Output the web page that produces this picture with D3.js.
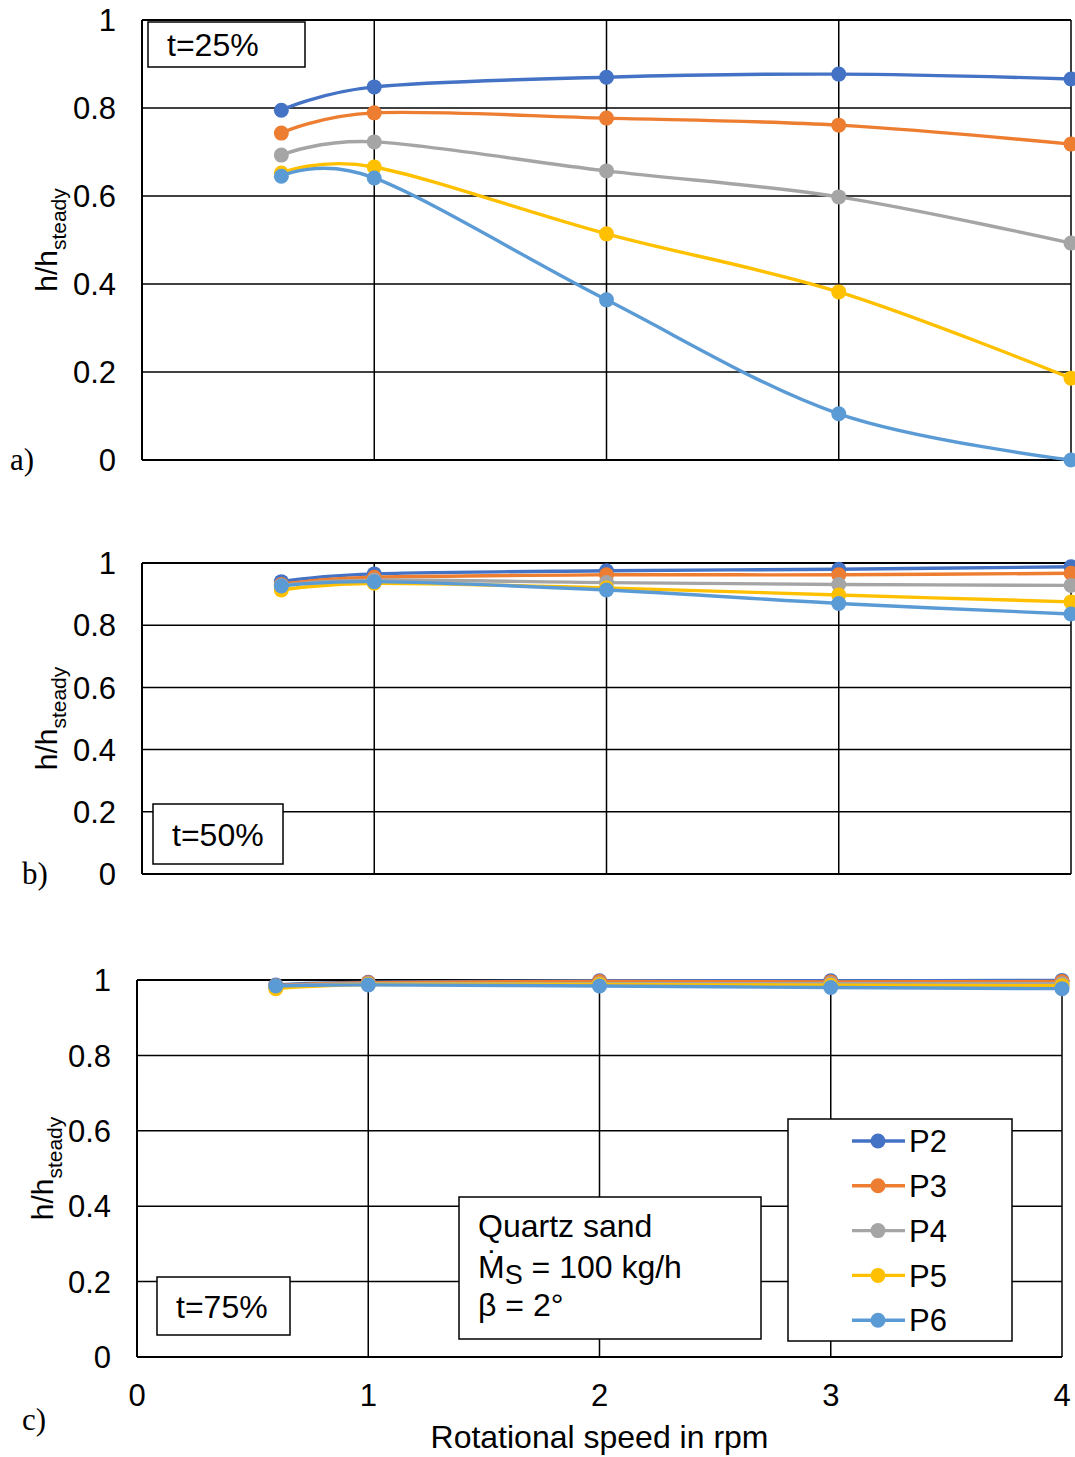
<!DOCTYPE html>
<html>
<head>
<meta charset="utf-8">
<script src="https://cdn.jsdelivr.net/npm/d3@7"></script>
<style>
  body { margin: 0; background: #fff; }
  svg { font-family: "Liberation Sans", Arial, sans-serif; }
</style>
</head>
<body>
<div id="wrapper"></div>
<script>
// data
const speeds = [0.6, 1, 2, 3, 4]
const seriesNames = ["P2", "P3", "P4", "P5", "P6"]
const seriesColors = ["#4472C4", "#ED7D31", "#A5A5A5", "#FFC000", "#5B9BD5"]
const yTicks = [0, 0.2, 0.4, 0.6, 0.8, 1]
const xTicks = [0, 1, 2, 3, 4]

// one row per series P2..P6
const t25 = [
    [0.795, 0.848, 0.870, 0.877, 0.866],
    [0.743, 0.789, 0.777, 0.761, 0.718],
    [0.693, 0.723, 0.657, 0.598, 0.493],
    [0.652, 0.666, 0.514, 0.382, 0.186],
    [0.645, 0.641, 0.364, 0.105, 0.000],
]
const t50 = [
    [0.940, 0.965, 0.975, 0.980, 0.988],
    [0.931, 0.954, 0.962, 0.962, 0.967],
    [0.928, 0.945, 0.937, 0.931, 0.928],
    [0.913, 0.935, 0.920, 0.897, 0.875],
    [0.926, 0.940, 0.913, 0.870, 0.836],
]
const t75 = [
    [0.987, 0.994, 0.998, 0.998, 0.999],
    [0.985, 0.993, 0.996, 0.995, 0.996],
    [0.984, 0.990, 0.990, 0.990, 0.990],
    [0.977, 0.988, 0.988, 0.986, 0.985],
    [0.984, 0.987, 0.984, 0.980, 0.977],
]

const width = 1075
const height = 1457
const fontSize = 31

const panels = [
    { data: t25, label: "a)", tag: "t=25%", left: 142, right: 1071, top: 20, bottom: 460,
      labelPos: [10, 470], titleX: 57, tagBox: [148, 22, 157, 45] },
    { data: t50, label: "b)", tag: "t=50%", left: 142, right: 1071, top: 563, bottom: 874,
      labelPos: [22, 884], titleX: 57, tagBox: [153, 804, 130, 60] },
    { data: t75, label: "c)", tag: "t=75%", left: 137, right: 1062, top: 980, bottom: 1357,
      labelPos: [22, 1430], titleX: 53, tagBox: [157, 1277, 133, 58], xAxis: true },
]

const svg = d3.select("#wrapper")
    .append("svg")
    .attr("width", width)
    .attr("height", height)

const line = d3.line()
    .curve(d3.curveCatmullRom.alpha(0))

panels.forEach(p => {
    const xScale = d3.scaleLinear().domain([0, 4]).range([p.left, p.right])
    const yScale = d3.scaleLinear().domain([0, 1]).range([p.bottom, p.top])
    const g = svg.append("g")

    // grid
    g.selectAll(".hgrid")
        .data(yTicks)
        .join("line")
        .attr("x1", p.left).attr("x2", p.right)
        .attr("y1", d => yScale(d)).attr("y2", d => yScale(d))
        .attr("stroke", "#000")
        .attr("stroke-width", d => (d === 0 || d === 1) ? 2 : 1.5)

    g.selectAll(".vgrid")
        .data(xTicks)
        .join("line")
        .attr("x1", d => xScale(d)).attr("x2", d => xScale(d))
        .attr("y1", p.top).attr("y2", p.bottom)
        .attr("stroke", "#000")
        .attr("stroke-width", d => d === 0 ? 2 : 1.5)

    // y tick labels
    g.selectAll(".ylab")
        .data(yTicks)
        .join("text")
        .attr("x", p.left - 26)
        .attr("y", d => yScale(d))
        .attr("dy", "0.36em")
        .attr("text-anchor", "end")
        .attr("font-size", fontSize)
        .text(d => d3.format("~g")(d))

    // y title
    const cy = (p.top + p.bottom) / 2
    const title = g.append("text")
        .attr("transform", `translate(${p.titleX},${cy}) rotate(-90)`)
        .attr("text-anchor", "middle")
        .attr("font-size", 30)
    title.append("tspan").text("h/h")
    title.append("tspan").attr("dy", 9).attr("font-size", 21).text("steady")

    // panel label
    g.append("text")
        .attr("x", p.labelPos[0]).attr("y", p.labelPos[1])
        .attr("font-family", "'Liberation Serif', 'Times New Roman', serif")
        .attr("font-size", 31)
        .text(p.label)

    // series
    p.data.forEach((vals, i) => {
        const pts = speeds.map((s, j) => [xScale(s), yScale(vals[j])])
        g.append("path")
            .attr("d", line(pts))
            .attr("fill", "none")
            .attr("stroke", seriesColors[i])
            .attr("stroke-width", 3.4)
        g.selectAll(`.m${i}`)
            .data(pts)
            .join("circle")
            .attr("cx", d => d[0]).attr("cy", d => d[1])
            .attr("r", 7.5)
            .attr("fill", seriesColors[i])
    })

    // time tag box
    const [bx, by, bw, bh] = p.tagBox
    g.append("rect")
        .attr("x", bx).attr("y", by).attr("width", bw).attr("height", bh)
        .attr("fill", "#fff").attr("stroke", "#000").attr("stroke-width", 1.5)
    g.append("text")
        .attr("x", bx + 19).attr("y", by + bh / 2)
        .attr("dy", "0.36em")
        .attr("font-size", 32)
        .text(p.tag)

    if (p.xAxis) {
        g.selectAll(".xlab")
            .data(xTicks)
            .join("text")
            .attr("x", d => xScale(d))
            .attr("y", p.bottom + 49)
            .attr("text-anchor", "middle")
            .attr("font-size", fontSize)
            .text(d => d)
        g.append("text")
            .attr("x", xScale(2))
            .attr("y", p.bottom + 91)
            .attr("text-anchor", "middle")
            .attr("font-size", 32)
            .text("Rotational speed in rpm")

        // material note
        g.append("rect")
            .attr("x", 459).attr("y", 1197).attr("width", 302).attr("height", 142)
            .attr("fill", "#fff").attr("stroke", "#000").attr("stroke-width", 1.5)
        const note = g.append("g").attr("font-size", 32)
        note.append("text").attr("x", 478).attr("y", 1237).text("Quartz sand")
        const m = note.append("text").attr("x", 478).attr("y", 1278)
        m.append("tspan").text("M\u0307")
        m.append("tspan").attr("dy", 6).attr("font-size", 27).text("S")
        m.append("tspan").attr("dy", -6).text(" = 100 kg/h")
        note.append("text").attr("x", 478).attr("y", 1316).text("\u03b2 = 2\u00b0")

        // legend
        g.append("rect")
            .attr("x", 788).attr("y", 1119).attr("width", 224).attr("height", 222)
            .attr("fill", "#fff").attr("stroke", "#000").attr("stroke-width", 1.5)
        const legend = g.selectAll(".leg")
            .data(seriesNames)
            .join("g")
            .attr("transform", (d, i) => `translate(0,${1141 + i * 44.8})`)
        legend.append("line")
            .attr("x1", 852).attr("x2", 905)
            .attr("stroke", (d, i) => seriesColors[i])
            .attr("stroke-width", 3.4)
        legend.append("circle")
            .attr("cx", 878).attr("r", 7.5)
            .attr("fill", (d, i) => seriesColors[i])
        legend.append("text")
            .attr("x", 909).attr("dy", "0.36em")
            .attr("font-size", 31)
            .text(d => d)
    }
})
</script>
</body>
</html>
